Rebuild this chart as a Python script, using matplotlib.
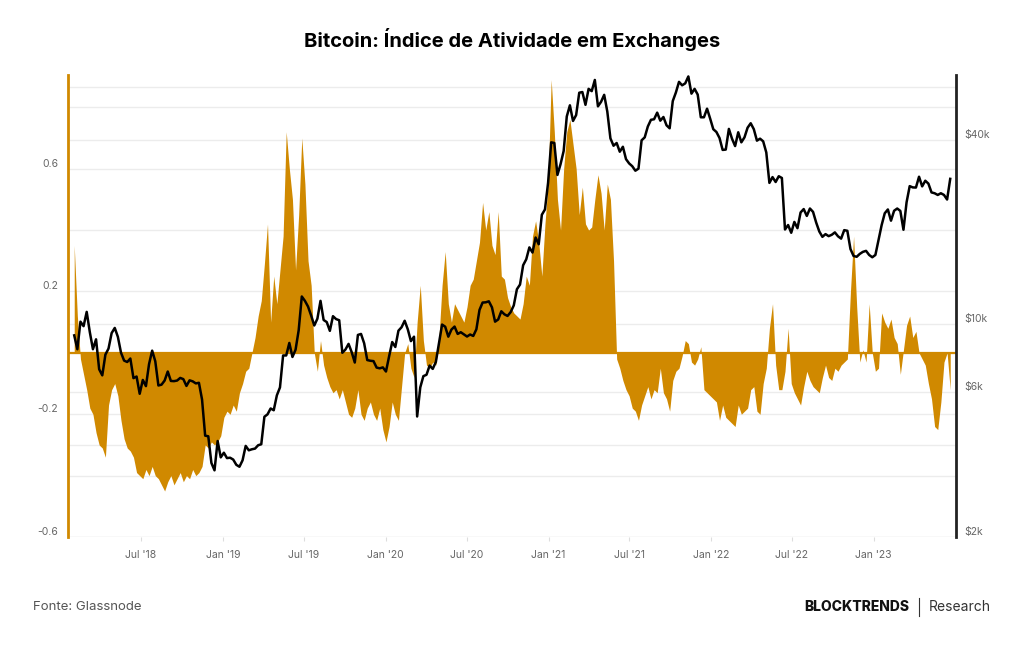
import pandas as pd
import matplotlib.pyplot as plt
from matplotlib.lines import Line2D

plt.rcParams['font.family'] = ['Inter', 'DejaVu Sans']

ORANGE = '#d08900'
GRID = '#ececec'
TICK = '#666666'

# weekly samples, first one on 2018-02-01
dates = pd.date_range('2018-02-01', periods=282, freq='7D')

activity_2018 = [0.35, 0.12, -0.02, -0.07, -0.12, -0.18, -0.20, -0.26, -0.30, -0.31,
                 -0.34, -0.17, -0.12, -0.10, -0.14, -0.22, -0.28, -0.31, -0.32, -0.34,
                 -0.39, -0.40, -0.41, -0.38, -0.40, -0.37, -0.40, -0.41, -0.43, -0.45,
                 -0.42, -0.40, -0.43, -0.41, -0.39, -0.42, -0.40, -0.41, -0.38, -0.40,
                 -0.39, -0.37, -0.30, -0.31, -0.29, -0.30, -0.29, -0.27]
activity_2019 = [-0.21, -0.19, -0.20, -0.17, -0.19, -0.13, -0.10, -0.06, -0.05, 0.0,
                 0.05, 0.12, 0.17, 0.29, 0.42, 0.10, 0.25, 0.16, 0.27, 0.38,
                 0.72, 0.60, 0.50, 0.27, 0.45, 0.70, 0.55, 0.30, 0.22, 0.0,
                 -0.06, 0.04, -0.04, -0.08, -0.11, -0.13, -0.12, -0.15, -0.12, -0.16,
                 -0.20, -0.21, -0.18, -0.12, -0.20, -0.22, -0.18, -0.16, -0.20, -0.22,
                 -0.18, -0.25]
activity_2020 = [-0.29, -0.24, -0.16, -0.20, -0.22, -0.11, 0.0, 0.03, -0.05, -0.08,
                 0.10, 0.22, 0.04, -0.04, -0.05, -0.03, -0.04, 0.05, 0.22, 0.33,
                 0.16, 0.10, 0.16, 0.14, 0.12, 0.10, 0.15, 0.22, 0.24, 0.30,
                 0.36, 0.49, 0.40, 0.46, 0.35, 0.32, 0.46, 0.25, 0.24, 0.18,
                 0.15, 0.13, 0.12, 0.11, 0.16, 0.25, 0.22, 0.38, 0.43, 0.36,
                 0.25, 0.42, 0.55]
activity_2021 = [0.89, 0.72, 0.50, 0.40, 0.60, 0.72, 0.76, 0.68, 0.60, 0.45,
                 0.54, 0.42, 0.40, 0.41, 0.50, 0.58, 0.52, 0.40, 0.55, 0.50,
                 0.30, -0.02, -0.05, -0.09, -0.12, -0.14, -0.18, -0.19, -0.22, -0.17,
                 -0.14, -0.11, -0.15, -0.12, -0.13, -0.05, -0.13, -0.15, -0.19, -0.09,
                 -0.06, -0.05, -0.01, 0.04, 0.03, -0.03, -0.04, -0.02, 0.02, -0.12,
                 -0.13, -0.14]
activity_2022 = [-0.15, -0.16, -0.22, -0.17, -0.21, -0.22, -0.23, -0.24, -0.17, -0.20,
                 -0.19, -0.18, -0.12, -0.11, -0.19, -0.20, -0.10, -0.05, 0.08, 0.16,
                 -0.04, -0.12, -0.12, -0.06, 0.08, -0.10, -0.13, -0.15, -0.17, -0.11,
                 -0.06, -0.09, -0.11, -0.12, -0.13, -0.08, -0.04, -0.08, -0.09, -0.05,
                 -0.06, -0.04, -0.03, -0.02, 0.20, 0.38, 0.15, -0.03, 0.01, -0.03,
                 0.16, 0.0]
activity_2023 = [-0.06, -0.05, 0.13, 0.10, 0.08, 0.11, 0.05, 0.03, -0.07, 0.01,
                 0.09, 0.12, 0.05, 0.07, 0.0, -0.02, -0.04, -0.10, -0.15, -0.24,
                 -0.25, -0.16, -0.03, 0.0, -0.12]

price_2018 = [9170, 8260, 10170, 9830, 10950, 9400, 8260, 8900, 7100, 6780,
              7930, 8300, 9330, 9700, 9070, 8050, 7580, 7500, 7700, 6640,
              6720, 5900, 6550, 6250, 7380, 8170, 7540, 6280, 6320, 6520,
              6980, 6500, 6490, 6520, 6650, 6590, 6260, 6530, 6480, 6380,
              6410, 5650, 4300, 4280, 3500, 3310, 4130, 3650]
price_2019 = [3780, 3630, 3640, 3590, 3450, 3400, 3570, 3980, 3850, 3880,
              3900, 4000, 4030, 4960, 5050, 5280, 5210, 5830, 6190, 7880,
              7880, 8660, 7790, 8230, 9530, 12300, 11900, 11400, 10650, 9880,
              10400, 11900, 10300, 10140, 9490, 10600, 10370, 10280, 8040, 8240,
              8600, 8080, 7470, 9200, 9270, 8640, 7610, 7570, 7550, 7190,
              7150, 7200]
price_2020 = [6980, 7820, 8720, 8400, 9500, 9750, 10240, 9600, 8780, 9080,
              4970, 6190, 6740, 6810, 7300, 7120, 7500, 8660, 9950, 9790,
              9080, 9580, 9800, 9270, 9390, 9240, 9090, 9230, 9130, 9600,
              11110, 11750, 11770, 11860, 11330, 10170, 10340, 11000, 10750, 10620,
              10930, 11500, 12990, 13460, 15570, 16290, 17820, 17140, 19200, 18250,
              22800, 23730, 29000]
price_2021 = [39400, 39200, 30800, 33400, 36900, 47900, 52100, 46300, 48400, 57300,
              57600, 52300, 59000, 58000, 63100, 51700, 53500, 56400, 49700, 40600,
              38400, 39200, 36700, 38100, 34700, 33600, 32900, 31800, 32300, 40000,
              40900, 44400, 46700, 46900, 49300, 46400, 47700, 44800, 43800, 53800,
              57400, 62200, 60600, 61500, 64800, 56900, 59000, 56500, 47600, 47600,
              50800, 47100]
price_2022 = [43500, 42600, 40700, 37200, 37300, 43600, 40500, 38300, 42500, 39400,
              40900, 44000, 45500, 43500, 39900, 40500, 39700, 36500, 29000, 30300,
              29200, 30500, 30100, 20400, 21100, 19900, 21600, 20600, 23200, 23800,
              22600, 23900, 23300, 21500, 20100, 19300, 19700, 19400, 19600, 19960,
              19380, 19040, 20300, 20200, 17600, 16700, 16600, 16970, 17230, 17360,
              16830, 16540]
price_2023 = [16830, 18850, 21080, 23060, 23730, 21800, 23500, 23900, 23470, 20360,
              25050, 28300, 28030, 28000, 30390, 28250, 29480, 28850, 26990, 26820,
              26480, 26820, 26480, 25580, 29900]

activity = activity_2018 + activity_2019 + activity_2020 + activity_2021 + activity_2022 + activity_2023
price = price_2018 + price_2019 + price_2020 + price_2021 + price_2022 + price_2023

left_ticks = [-0.6, -0.4, -0.2, 0.0, 0.2, 0.4, 0.6, 0.8]
left_labels = ['-0.6', '', '-0.2', '', '0.2', '', '0.6', '']
price_grid = [2000, 4000, 6000, 10000, 40000, 60000]
price_ticks = [2000, 6000, 10000, 40000]
price_labels = ['$2k', '$6k', '$10k', '$40k']
x_ticks = pd.date_range('2018-07-01', '2023-01-01', freq='6MS')

fig = plt.figure(figsize=(10.24, 6.45), dpi=100)
ax = fig.add_axes([0.0664, 0.1674, 0.8672, 0.7163])
ax_bg = ax.twinx()
ax2 = ax.twinx()
ax_bg.set_zorder(0)
ax.set_zorder(1)
ax2.set_zorder(2)
ax.patch.set_visible(False)
ax2.patch.set_visible(False)

xmin, xmax = pd.Timestamp('2018-01-18'), pd.Timestamp('2023-07-05')

# background grid for the price scale
ax_bg.set_yscale('log')
ax_bg.set_ylim(2000, 65500)
ax_bg.set_yticks(price_grid)
ax_bg.yaxis.set_minor_locator(plt.NullLocator())
ax_bg.grid(axis='y', color=GRID, linewidth=1)
ax_bg.tick_params(axis='y', length=0, labelright=False)
for s in ax_bg.spines.values():
    s.set_visible(False)

# activity index
ax.fill_between(dates, 0, activity, color=ORANGE, linewidth=0, zorder=2)
ax.axhline(0, color=ORANGE, linewidth=1.6, zorder=2)
ax.set_ylim(-0.6, 0.905)
ax.set_xlim(xmin, xmax)
ax.set_yticks(left_ticks)
ax.set_yticklabels(left_labels)
ax.grid(axis='y', color=GRID, linewidth=1, zorder=0)
ax.set_axisbelow(True)
ax.tick_params(axis='y', length=0, pad=7, labelsize=7.5, labelcolor=TICK)
for lab in ax.get_yticklabels():
    lab.set_verticalalignment('bottom')
ax.set_xticks(x_ticks)
ax.set_xticklabels([f"{d.strftime('%b')} '{d.strftime('%y')}" for d in x_ticks])
ax.tick_params(axis='x', length=3, color='#dddddd', pad=6, labelsize=7.5, labelcolor=TICK)
for side in ['top', 'right', 'bottom']:
    ax.spines[side].set_visible(False)
ax.spines['left'].set_color(ORANGE)
ax.spines['left'].set_linewidth(2)

# bitcoin price
ax2.plot(dates, price, color='black', linewidth=1.8)
ax2.set_yscale('log')
ax2.set_ylim(2000, 65500)
ax2.set_xlim(xmin, xmax)
ax2.set_yticks(price_ticks)
ax2.set_yticklabels(price_labels)
ax2.yaxis.set_minor_locator(plt.NullLocator())
ax2.tick_params(axis='y', length=0, pad=6, labelsize=7.5, labelcolor=TICK)
for lab in ax2.get_yticklabels():
    lab.set_verticalalignment('bottom')
for side in ['top', 'left', 'bottom']:
    ax2.spines[side].set_visible(False)
ax2.spines['right'].set_color('#222222')
ax2.spines['right'].set_linewidth(2)

fig.text(0.5, 0.938, 'Bitcoin: Índice de Atividade em Exchanges', ha='center', va='center',
         fontsize=14.5, fontweight='bold', color='black')
fig.text(0.032, 0.059, 'Fonte: Glassnode', ha='left', va='center', fontsize=9.5, color='#555555')
fig.text(0.888, 0.059, 'BLOCKTRENDS', ha='right', va='center', fontsize=10, fontweight='heavy', color='#111111')
fig.text(0.907, 0.059, 'Research', ha='left', va='center', fontsize=10, color='#333333')
fig.add_artist(Line2D([0.8975, 0.8975], [0.045, 0.073], transform=fig.transFigure, color='#333333', linewidth=0.8))

fig.savefig('out.png', dpi=100, facecolor='white')
